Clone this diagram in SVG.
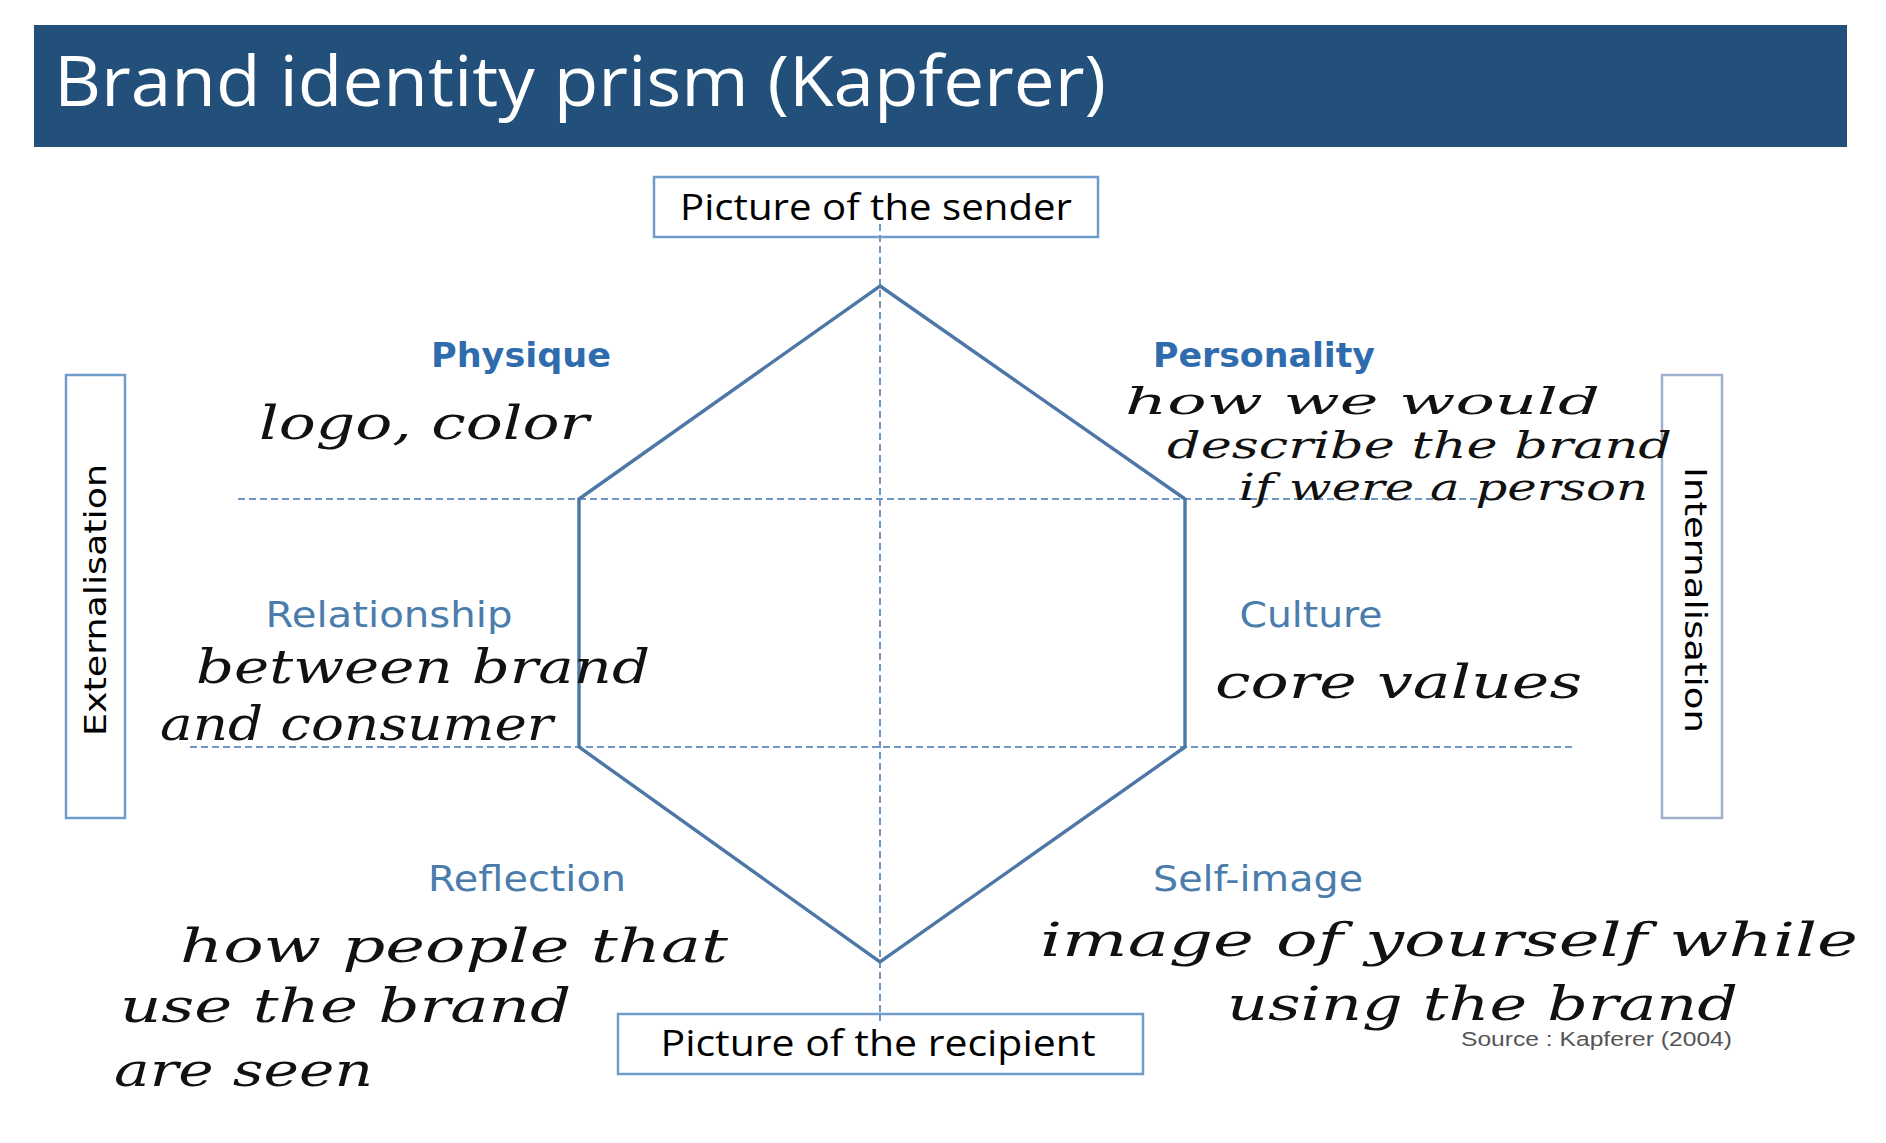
<svg xmlns="http://www.w3.org/2000/svg" width="1886" height="1143" viewBox="0 0 1886 1143">
<style>
.box{fill:#ffffff;stroke:#6e9dcc;stroke-width:2.5}
.box2{fill:#ffffff;stroke:#9fb1cc;stroke-width:2.5}
.dash{fill:none;stroke:#6f97c4;stroke-width:2;stroke-dasharray:7 4}
.hex{fill:none;stroke:#4c77a6;stroke-width:3.4;stroke-linejoin:miter}
.lbl{font-family:"DejaVu Sans","Liberation Sans",sans-serif;font-size:36px;fill:#4a7cac;text-anchor:middle}
.lblb{font-family:"DejaVu Sans","Liberation Sans",sans-serif;font-size:34px;font-weight:bold;fill:#2f6cae;text-anchor:middle}
.box-t{font-family:"Open Sans","DejaVu Sans",sans-serif;font-size:37px;fill:#000000;text-anchor:middle}
.hand{font-family:"DejaVu Serif","Liberation Serif",serif;font-style:italic;font-size:46px;fill:#111111}
.hand-s{font-family:"DejaVu Serif","Liberation Serif",serif;font-style:italic;font-size:38px;fill:#111111}
.src{font-family:"Liberation Sans",sans-serif;font-size:20px;fill:#555555}
</style>
<rect width="1886" height="1143" fill="#ffffff"/>
<g id="title">
<rect x="34" y="25" width="1813" height="122" fill="#22507a"/>
<text x="54" y="106" font-family="Open Sans, DejaVu Sans, sans-serif" font-size="70" fill="#ffffff" textLength="1052" lengthAdjust="spacingAndGlyphs">Brand identity prism (Kapferer)</text>
</g>
<g id="connectors">
<line class="dash" x1="880" y1="224" x2="880" y2="1040"/>
<line class="dash" x1="238" y1="499" x2="1500" y2="499"/>
<line class="dash" x1="190" y1="747" x2="1575" y2="747"/>
<polygon class="hex" points="880,286 1185,499 1185,747 880,962 579,747 579,499"/>
</g>
<g id="sender">
<rect class="box" x="654" y="177" width="444" height="60"/>
<text class="box-t" x="876" y="220" textLength="392" lengthAdjust="spacingAndGlyphs">Picture of the sender</text>
<line class="dash" x1="880" y1="224" x2="880" y2="237"/>
</g>
<g id="recipient">
<rect class="box" x="618" y="1014" width="525" height="60"/>
<text class="box-t" x="878" y="1056" textLength="435" lengthAdjust="spacingAndGlyphs">Picture of the recipient</text>
<line class="dash" x1="880" y1="1014" x2="880" y2="1024"/>
</g>
<g id="externalisation">
<rect class="box" x="66" y="375" width="59" height="443"/>
<text transform="translate(106,600) rotate(-90)" font-family="DejaVu Sans, sans-serif" font-size="31" fill="#000" text-anchor="middle" textLength="272" lengthAdjust="spacingAndGlyphs">Externalisation</text>
</g>
<g id="internalisation">
<rect class="box2" x="1662" y="375" width="60" height="443"/>
<text transform="translate(1685,600) rotate(90)" font-family="DejaVu Sans, sans-serif" font-size="31" fill="#000" text-anchor="middle" textLength="266" lengthAdjust="spacingAndGlyphs">Internalisation</text>
</g>
<g id="physique">
<text class="lblb" x="521" y="367" textLength="180" lengthAdjust="spacingAndGlyphs">Physique</text>
<text class="hand" x="259" y="439" textLength="330" lengthAdjust="spacingAndGlyphs">logo, color</text>
</g>
<g id="personality">
<text class="lblb" x="1264" y="367" textLength="222" lengthAdjust="spacingAndGlyphs">Personality</text>
<text class="hand-s" x="1125" y="414" textLength="475" lengthAdjust="spacingAndGlyphs">how we would</text>
<text class="hand-s" x="1167" y="458" textLength="505" lengthAdjust="spacingAndGlyphs">describe the brand</text>
<text class="hand-s" x="1239" y="500" textLength="409" lengthAdjust="spacingAndGlyphs">if were a person</text>
</g>
<g id="relationship">
<text class="lbl" x="389" y="627" textLength="247" lengthAdjust="spacingAndGlyphs">Relationship</text>
<text class="hand" x="196" y="683" textLength="454" lengthAdjust="spacingAndGlyphs">between brand</text>
<text class="hand" x="160" y="740" textLength="393" lengthAdjust="spacingAndGlyphs">and consumer</text>
</g>
<g id="culture">
<text class="lbl" x="1311" y="627" textLength="143" lengthAdjust="spacingAndGlyphs">Culture</text>
<text class="hand" x="1215" y="698" textLength="367" lengthAdjust="spacingAndGlyphs">core values</text>
</g>
<g id="reflection">
<text class="lbl" x="527" y="891" textLength="198" lengthAdjust="spacingAndGlyphs">Reflection</text>
<text class="hand" x="180" y="962" textLength="548" lengthAdjust="spacingAndGlyphs">how people that</text>
<text class="hand" x="120" y="1022" textLength="451" lengthAdjust="spacingAndGlyphs">use the brand</text>
<text class="hand" x="114" y="1086" textLength="259" lengthAdjust="spacingAndGlyphs">are seen</text>
</g>
<g id="selfimage">
<text class="lbl" x="1258" y="891" textLength="210" lengthAdjust="spacingAndGlyphs">Self-image</text>
<text class="hand" x="1040" y="956" textLength="818" lengthAdjust="spacingAndGlyphs">image of yourself while</text>
<text class="hand" x="1227" y="1020" textLength="511" lengthAdjust="spacingAndGlyphs">using the brand</text>
</g>
<text class="src" x="1461" y="1046" textLength="271" lengthAdjust="spacingAndGlyphs">Source : Kapferer (2004)</text>
</svg>
